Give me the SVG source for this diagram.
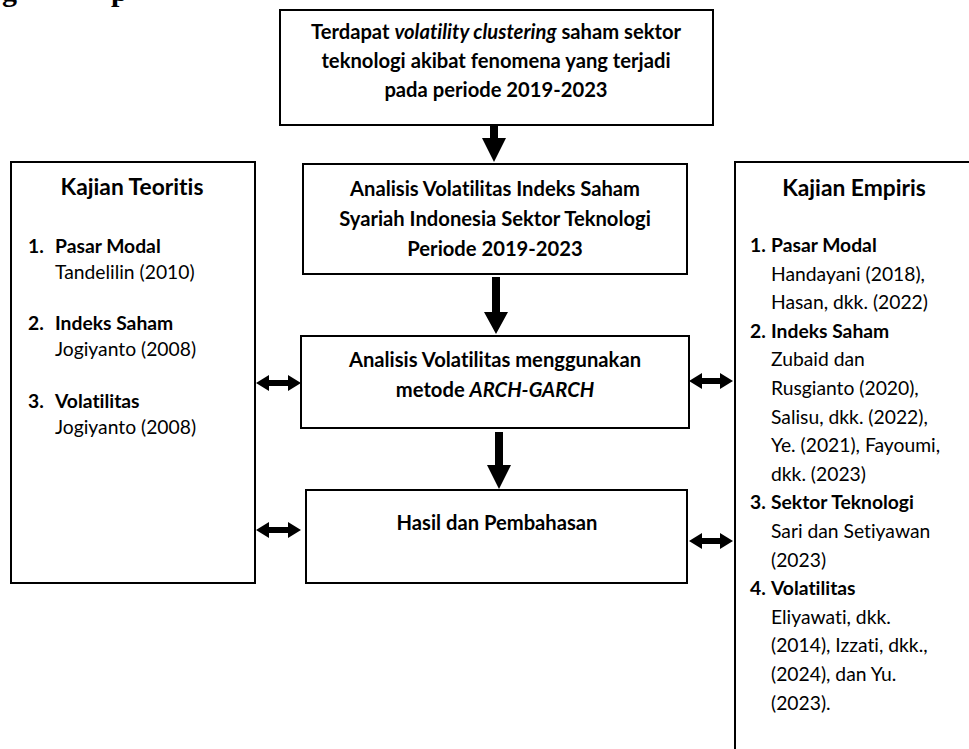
<svg xmlns="http://www.w3.org/2000/svg" width="969" height="749" viewBox="0 0 969 749">
<style>
.box{fill:#fff;stroke:#000;stroke-width:2}
.t{font-family:Lato,"Liberation Sans",sans-serif;fill:#000;font-variant-ligatures:none}
.b{font-weight:bold}
.c{text-anchor:middle;font-size:20.2px;font-weight:bold}
.h{text-anchor:middle;font-size:22.8px;font-weight:bold}
.s{font-size:19.3px}
.arr{fill:#000;stroke:none}
</style>
<g id="heading-fragment" font-family="'Liberation Serif',serif" font-weight="bold" font-size="30">
<text x="2" y="1">g</text>
<text x="111" y="1">p</text>
</g>
<g id="fenomena">
<rect class="box" x="280" y="10" width="433" height="115"/>
<text class="t c" x="496" y="39">Terdapat <tspan font-style="italic">volatility clustering</tspan> saham sektor</text>
<text class="t c" x="496" y="68">teknologi akibat fenomena yang terjadi</text>
<text class="t c" x="496" y="97">pada periode 2019-2023</text>
</g>
<g id="analisis-ishi">
<rect class="box" x="303" y="164" width="384" height="110"/>
<text class="t c" x="495" y="196">Analisis Volatilitas Indeks Saham</text>
<text class="t c" x="495" y="226">Syariah Indonesia Sektor Teknologi</text>
<text class="t c" x="495" y="256">Periode 2019-2023</text>
</g>
<g id="arch-garch">
<rect class="box" x="301" y="336" width="388" height="92"/>
<text class="t c" x="495" y="367">Analisis Volatilitas menggunakan</text>
<text class="t c" x="495" y="397">metode <tspan font-style="italic">ARCH-GARCH</tspan></text>
</g>
<g id="hasil">
<rect class="box" x="306" y="490" width="381" height="93"/>
<text class="t c" x="497" y="530">Hasil dan Pembahasan</text>
</g>
<g id="kajian-teoritis">
<rect class="box" x="11" y="162" width="244" height="421"/>
<text class="t h" x="132" y="195">Kajian Teoritis</text>
<text class="t s b" x="28" y="253">1.</text><text class="t s b" x="55" y="253">Pasar Modal</text>
<text class="t s" x="55" y="279">Tandelilin (2010)</text>
<text class="t s b" x="28" y="330">2.</text><text class="t s b" x="55" y="330">Indeks Saham</text>
<text class="t s" x="55" y="356">Jogiyanto (2008)</text>
<text class="t s b" x="28" y="408">3.</text><text class="t s b" x="55" y="408">Volatilitas</text>
<text class="t s" x="55" y="434">Jogiyanto (2008)</text>
</g>
<g id="kajian-empiris">
<path d="M1000 162 H735 V760" fill="#fff" stroke="#000" stroke-width="2"/>
<text class="t h" x="854" y="196">Kajian Empiris</text>
<text class="t s b" x="750" y="252">1.</text><text class="t s b" x="771" y="252">Pasar Modal</text>
<text class="t s" x="771" y="280.6">Handayani (2018),</text>
<text class="t s" x="771" y="309.2">Hasan, dkk. (2022)</text>
<text class="t s b" x="750" y="337.8">2.</text><text class="t s b" x="771" y="337.8">Indeks Saham</text>
<text class="t s" x="771" y="366.4">Zubaid dan</text>
<text class="t s" x="771" y="395">Rusgianto (2020),</text>
<text class="t s" x="771" y="423.6">Salisu, dkk. (2022),</text>
<text class="t s" x="771" y="452.2">Ye. (2021), Fayoumi,</text>
<text class="t s" x="771" y="480.8">dkk. (2023)</text>
<text class="t s b" x="750" y="509.4">3.</text><text class="t s b" x="771" y="509.4">Sektor Teknologi</text>
<text class="t s" x="771" y="538">Sari dan Setiyawan</text>
<text class="t s" x="771" y="566.6">(2023)</text>
<text class="t s b" x="750" y="595.2">4.</text><text class="t s b" x="771" y="595.2">Volatilitas</text>
<text class="t s" x="771" y="623.8">Eliyawati, dkk.</text>
<text class="t s" x="771" y="652.4">(2014), Izzati, dkk.,</text>
<text class="t s" x="771" y="681">(2024), dan Yu.</text>
<text class="t s" x="771" y="709.6">(2023).</text>
</g>
<g id="connectors">
<path class="arr" d="M490 125 H498 V138 H506 L494 162 L482 138 H490 Z"/>
<path class="arr" d="M492 277 H500 V312 H508 L496 334 L484 312 H492 Z"/>
<path class="arr" d="M495 432 H503 V465 H511 L499 489 L487 465 H495 Z"/>
<path class="arr" d="M256 383 L269 375 V380 H288 V375 L301 383 L288 391 V386 H269 V391 Z"/>
<path class="arr" d="M256 530 L269 522 V527 H288 V522 L301 530 L288 538 V533 H269 V538 Z"/>
<path class="arr" d="M689 381 L702 373 V378 H720 V373 L733 381 L720 389 V384 H702 V389 Z"/>
<path class="arr" d="M689 541 L702 533 V538 H720 V533 L733 541 L720 549 V544 H702 V549 Z"/>
</g>
</svg>
